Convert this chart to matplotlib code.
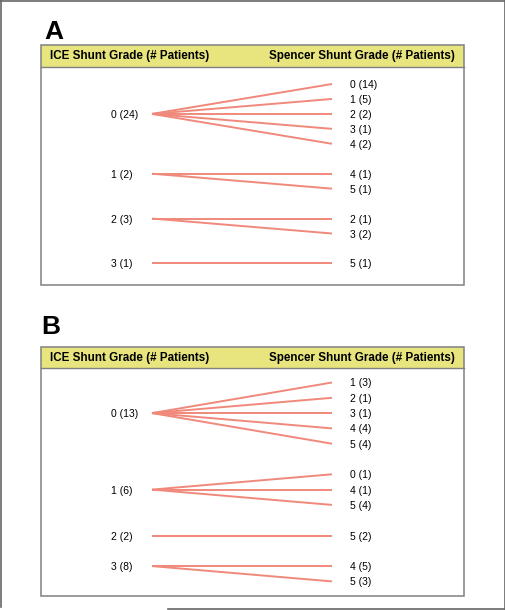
import matplotlib
matplotlib.use("Agg")
import matplotlib.pyplot as plt
from matplotlib.patches import Rectangle

# DATOS: ICE -> Spencer

a_ice = ["0", "1", "2", "3"]
a_ice_n = [24, 2, 3, 1]
a_spencer = [["0", "1", "2", "3", "4"], ["4", "5"], ["2", "3"], ["5"]]
a_spencer_n = [[14, 5, 2, 1, 2], [1, 1], [1, 2], [1]]

b_ice = ["0", "1", "2", "3"]
b_ice_n = [13, 6, 2, 8]
b_spencer = [["1", "2", "3", "4", "5"], ["0", "4", "5"], ["5"], ["4", "5"]]
b_spencer_n = [[3, 1, 1, 4, 4], [1, 1, 4], [2], [5, 3]]

header_left = "ICE Shunt Grade (# Patients)"
header_right = "Spencer Shunt Grade (# Patients)"

# ESTILO

LINE_COLOR = "#F0897B"
HEADER_COLOR = "#E8E57E"
BOX_COLOR = "#808080"
FONT = "Liberation Sans"

fig = plt.figure(figsize=(5.06, 6.10), dpi=100)
ax = fig.add_axes([0, 0, 1, 1])
ax.set_xlim(0, 506)
ax.set_ylim(610, 0)
ax.axis("off")

# marco exterior
ax.plot([1, 1], [0, 607], color="#666666", lw=1.2)
ax.plot([0, 506], [0.5, 0.5], color="#666666", lw=1.2)
ax.plot([505, 505], [0, 609], color="#666666", lw=1.2)
ax.plot([168, 506], [609, 609], color="#666666", lw=1.2)


def panel(letter, letter_x, letter_y, top, head_bot, bottom,
          ice, ice_n, sp, sp_n, row0, step):
    ax.text(letter_x, letter_y, letter, fontsize=19, fontweight="bold",
            family=FONT, ha="left", va="baseline")
    ax.add_patch(Rectangle((41, top), 423, head_bot - top,
                           facecolor=HEADER_COLOR, edgecolor="none"))
    ax.add_patch(Rectangle((41, top), 423, bottom - top, facecolor="none",
                           edgecolor=BOX_COLOR, lw=1.1))
    ax.plot([41, 464], [head_bot, head_bot], color=BOX_COLOR, lw=1.0)
    hy = (top + head_bot) / 2 + 0.5
    ax.text(50, hy, header_left, fontsize=8.4, fontweight="bold",
            family=FONT, ha="left", va="center")
    ax.text(455, hy, header_right, fontsize=8.4, fontweight="bold",
            family=FONT, ha="right", va="center")

    row = 0
    for g in range(len(ice)):
        n = len(sp[g])
        ys = [row0 + (row + k) * step for k in range(n)]
        src = ys[(n - 1) // 2]
        ax.text(111, src, f"{ice[g]} ({ice_n[g]})", fontsize=7.5,
                family=FONT, ha="left", va="center")
        for k in range(n):
            ax.plot([152, 332], [src - 1, ys[k] - 1], color=LINE_COLOR,
                    lw=1.4, solid_capstyle="butt")
            ax.text(350, ys[k], f"{sp[g][k]} ({sp_n[g][k]})", fontsize=7.5,
                    family=FONT, ha="left", va="center")
        row += n + 1


panel("A", 44, 39, 45, 67, 285, a_ice, a_ice_n, a_spencer, a_spencer_n,
      85.0, 14.95)
panel("B", 41, 334, 347, 368, 596, b_ice, b_ice_n, b_spencer, b_spencer_n,
      383.5, 15.3)

fig.savefig("out.png", dpi=100)
